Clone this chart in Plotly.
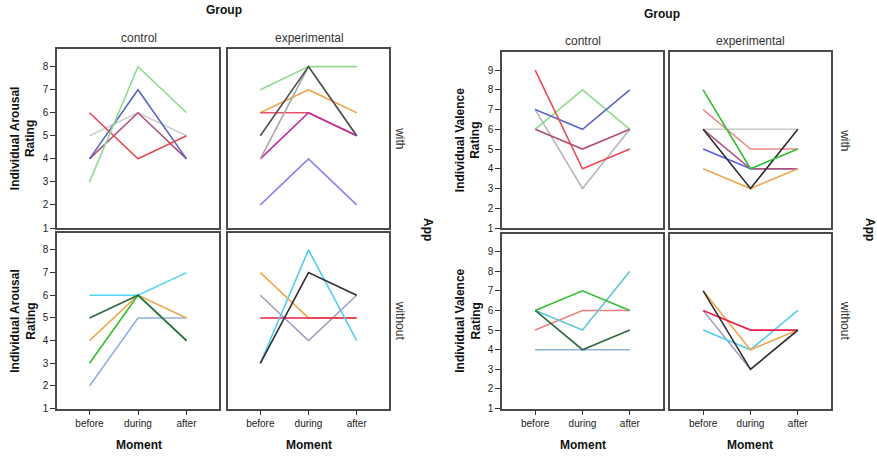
import plotly.graph_objects as go

W, H = 877, 462
moments = ["before", "during", "after"]

# ---- data: (color, values) per participant line ----
arousal_control_with = [
    ("#d0d0d0", [5, 6, 5]),
    ("#b0507f", [4, 6, 4]),
    ("#5a66c8", [4, 7, 4]),
    ("#e84a50", [6, 4, 5]),
    ("#8fdc8f", [3, 8, 6]),
]
arousal_exp_with = [
    ("#8fdc8f", [7, 8, 8]),
    ("#f0a850", [6, 7, 6]),
    ("#e8506a", [6, 6, 5]),
    ("#c030a0", [4, 6, 5]),
    ("#a8a8a8", [4, 8, 5]),
    ("#505050", [5, 8, 5]),
    ("#8a84f0", [2, 4, 2]),
]
arousal_control_without = [
    ("#90b0e0", [2, 5, 5]),
    ("#f0a850", [4, 6, 5]),
    ("#50d8f0", [6, 6, 7]),
    ("#30c030", [3, 6, 4]),
    ("#2e6a40", [5, 6, 4]),
]
arousal_exp_without = [
    ("#f0a850", [7, 5, 5]),
    ("#a8a0c0", [6, 4, 6]),
    ("#e8204a", [5, 5, 5]),
    ("#50d0f0", [3, 8, 4]),
    ("#303030", [3, 7, 6]),
]
valence_control_with = [
    ("#b8b8b8", [7, 3, 6]),
    ("#8fdc8f", [6, 8, 6]),
    ("#b0507f", [6, 5, 6]),
    ("#5a66c8", [7, 6, 8]),
    ("#f04a50", [9, 4, 5]),
]
valence_exp_with = [
    ("#c8c8c8", [6, 6, 6]),
    ("#f08888", [7, 5, 5]),
    ("#5a5af0", [5, 4, 4]),
    ("#b0507f", [6, 4, 4]),
    ("#f0a850", [4, 3, 4]),
    ("#303030", [6, 3, 6]),
    ("#30c030", [8, 4, 5]),
]
valence_control_without = [
    ("#90b0e0", [4, 4, 4]),
    ("#f08080", [5, 6, 6]),
    ("#60c8d0", [6, 5, 8]),
    ("#2e6a40", [6, 4, 5]),
    ("#30c030", [6, 7, 6]),
]
valence_exp_without = [
    ("#a8a0c0", [6, 3, 5]),
    ("#50d0f0", [5, 4, 6]),
    ("#f0a850", [7, 4, 5]),
    ("#e8204a", [6, 5, 5]),
    ("#303030", [7, 3, 5]),
]

group_labels = ["control", "experimental"]
app_labels = ["with", "without"]

def px(x):
    return x / W

def py(y):
    return 1 - y / H

# panel geometry in pixels: (x0, x1, y0, y1)
panels = [
    # left chart
    dict(data=arousal_control_with, box=(57, 219, 50, 231), yr=[1, 8.75], xr=[-0.67, 2.67], yt=True, xt=False),
    dict(data=arousal_exp_with, box=(228, 389, 50, 231), yr=[1, 8.75], xr=[-0.67, 2.67], yt=False, xt=False),
    dict(data=arousal_control_without, box=(57, 219, 236, 414), yr=[1, 8.75], xr=[-0.67, 2.67], yt=True, xt=True),
    dict(data=arousal_exp_without, box=(228, 389, 236, 414), yr=[1, 8.75], xr=[-0.67, 2.67], yt=False, xt=True),
    # right chart
    dict(data=valence_control_with, box=(502, 663, 53, 231), yr=[1, 9.9], xr=[-0.7, 2.7], yt=True, xt=False),
    dict(data=valence_exp_with, box=(670, 831, 53, 231), yr=[1, 9.9], xr=[-0.7, 2.7], yt=False, xt=False),
    dict(data=valence_control_without, box=(502, 663, 237, 414), yr=[1, 9.9], xr=[-0.7, 2.7], yt=True, xt=True),
    dict(data=valence_exp_without, box=(670, 831, 237, 414), yr=[1, 9.9], xr=[-0.7, 2.7], yt=False, xt=True),
]

fig = go.Figure()
layout = {}
for i, p in enumerate(panels):
    n = i + 1
    xa = "x" if n == 1 else f"x{n}"
    ya = "y" if n == 1 else f"y{n}"
    for color, vals in p["data"]:
        fig.add_trace(go.Scatter(
            x=[0, 1, 2], y=vals, mode="lines",
            line=dict(color=color, width=1.6),
            xaxis=xa, yaxis=ya, showlegend=False, hoverinfo="skip",
        ))
    x0, x1, y0, y1 = p["box"]
    xkey = "xaxis" if n == 1 else f"xaxis{n}"
    ykey = "yaxis" if n == 1 else f"yaxis{n}"
    layout[xkey] = dict(
        domain=[px(x0), px(x1)], range=p["xr"], anchor=ya,
        tickmode="array", tickvals=[0, 1, 2],
        ticktext=moments if p["xt"] else ["", "", ""],
        ticks="outside" if p["xt"] else "", ticklen=5, tickcolor="#333",
        showgrid=False, zeroline=False, showline=True, mirror=True,
        linecolor="#4a4a4a", linewidth=1.5,
        tickfont=dict(family="Arial, Liberation Sans", size=10, color="#222"),
        fixedrange=True,
    )
    ymax = int(p["yr"][1])
    layout[ykey] = dict(
        domain=[py(y1), py(y0)], range=p["yr"], anchor=xa,
        tickmode="array", tickvals=list(range(1, ymax + 1)),
        ticktext=[str(v) for v in range(1, ymax + 1)] if p["yt"] else [""] * ymax,
        ticks="outside" if p["yt"] else "", ticklen=5, tickcolor="#333",
        showgrid=False, zeroline=False, showline=True, mirror=True,
        linecolor="#4a4a4a", linewidth=1.5,
        tickfont=dict(family="Arial, Liberation Sans", size=10, color="#222"),
        fixedrange=True,
    )

ann = []
font_n = dict(family="Arial, Liberation Sans", size=12, color="#333")
font_b = dict(family="Arial, Liberation Sans", size=12, color="#111")

def add(text, x, y, font, angle=0, bold=False):
    ann.append(dict(
        text=f"<b>{text}</b>" if bold else text,
        x=px(x), y=py(y), xref="paper", yref="paper",
        showarrow=False, font=font, textangle=angle,
        xanchor="center", yanchor="middle",
    ))

# left chart texts
add("Group", 224, 10, font_b, bold=True)
add(group_labels[0], 139, 38, font_n)
add(group_labels[1], 309, 38, font_n)
add("Individual Arousal<br>Rating", 23, 140, font_b, angle=-90, bold=True)
add("Individual Arousal<br>Rating", 23, 325, font_b, angle=-90, bold=True)
add(app_labels[0], 400, 140, font_n, angle=90)
add(app_labels[1], 400, 325, font_n, angle=90)
add("App", 428, 232, font_b, angle=90, bold=True)
add("Moment", 139, 451, font_b, bold=True)
add("Moment", 309, 451, font_b, bold=True)

# right chart texts
add("Group", 662, 14, font_b, bold=True)
add(group_labels[0], 583, 42, font_n)
add(group_labels[1], 750, 42, font_n)
add("Individual Valence<br>Rating", 468, 142, font_b, angle=-90, bold=True)
add("Individual Valence<br>Rating", 468, 325, font_b, angle=-90, bold=True)
add(app_labels[0], 845, 142, font_n, angle=90)
add(app_labels[1], 845, 325, font_n, angle=90)
add("App", 870, 232, font_b, angle=90, bold=True)
add("Moment", 583, 451, font_b, bold=True)
add("Moment", 750, 451, font_b, bold=True)

fig.update_layout(
    width=W, height=H,
    margin=dict(l=0, r=0, t=0, b=0),
    paper_bgcolor="white", plot_bgcolor="white",
    annotations=ann, showlegend=False,
    **layout,
)

fig.write_html("out.html")
